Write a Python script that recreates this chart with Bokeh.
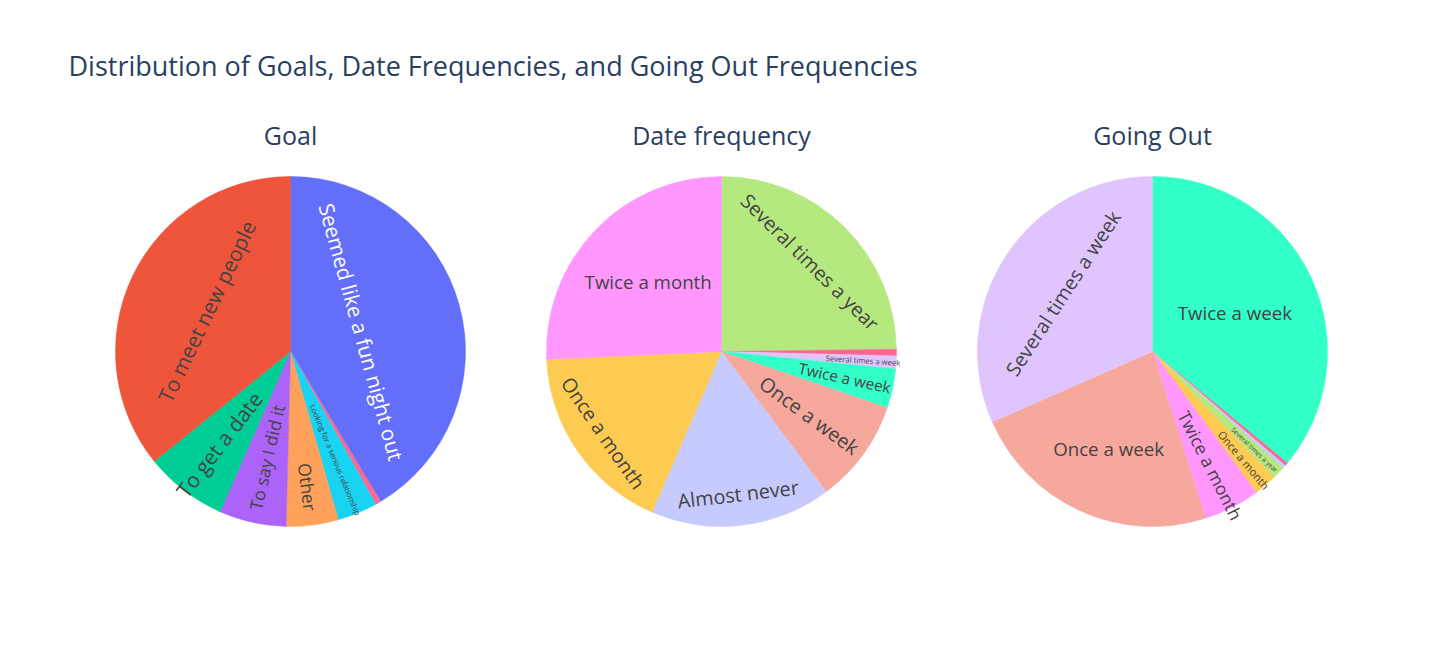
import math
from bokeh.plotting import figure
from bokeh.models import Range1d
from bokeh.core.properties import value
from bokeh.embed import file_html
from bokeh.resources import INLINE

# ---- data (percent shares, clockwise from 12 o'clock) ----
goal_labels = ["Seemed like a fun night out", "nan", "Looking for a serious relationship",
               "Other", "To say I did it", "To get a date", "To meet new people"]
goal_values = [41.4, 0.5, 3.7, 4.8, 6.2, 7.6, 35.8]

date_labels = ["Several times a year", "nan", "Several times a week", "Twice a week",
               "Once a week", "Almost never", "Once a month", "Twice a month"]
date_values = [24.8, 0.6, 1.2, 3.6, 9.6, 16.7, 17.8, 25.7]

out_labels = ["Twice a week", "nan", "Almost never", "Several times a year", "Once a month",
              "Twice a month", "Once a week", "Several times a week"]
out_values = [36.0, 0.3, 0.3, 1.2, 2.1, 5.2, 23.3, 31.6]

subtitles = ["Goal", "Date frequency", "Going Out"]
title = "Distribution of Goals, Date Frequencies, and Going Out Frequencies"

colors = {
    "Seemed like a fun night out": "#636EFA", "To meet new people": "#EF553B",
    "To get a date": "#00CC96", "To say I did it": "#AB63FA", "Other": "#FFA15A",
    "Looking for a serious relationship": "#19D3F3", "nan": "#FF6692",
    "Several times a year": "#B6E880", "Twice a month": "#FF97FF", "Once a month": "#FECB52",
    "Almost never": "#C6CAFD", "Once a week": "#F6A89C", "Twice a week": "#33FFC8",
    "Several times a week": "#DFC4FD",
}
# label styles: (mode, radius fraction, font px, color)
styles = [
    {"Seemed like a fun night out": ("t", 0.42, 19, "white"), "To meet new people": ("t", 0.53, 19, "#444"),
     "To get a date": ("r", 0.67, 19, "#444"), "To say I did it": ("r", 0.62, 16, "#444"),
     "Other": ("r", 0.78, 16, "#444"), "Looking for a serious relationship": ("r", 0.67, 7, "#444")},
    {"Several times a year": ("t", 0.72, 18, "#444"), "Several times a week": ("r", 0.81, 7, "#444"),
     "Twice a week": ("r", 0.72, 14, "#444"), "Once a week": ("r", 0.62, 18, "#444"),
     "Almost never": ("t", 0.82, 18, "#444"), "Once a month": ("t", 0.82, 18, "#444"),
     "Twice a month": ("h", 0.58, 17, "#444")},
    {"Twice a week": ("h", 0.52, 17, "#444"), "Several times a year": ("r", 0.81, 6, "#444"),
     "Once a month": ("r", 0.81, 10, "#444"), "Twice a month": ("r", 0.73, 16, "#444"),
     "Once a week": ("h", 0.61, 17, "#444"), "Several times a week": ("t", 0.61, 18, "#444")},
]
FS = 1.1

W, H = 1425, 653
p = figure(width=W, height=H, output_backend="svg", toolbar_location=None,
           x_range=Range1d(0, W), y_range=Range1d(0, H), min_border=0)
p.axis.visible = False
p.grid.visible = False
p.outline_line_color = None

centers = [(290, H - 351), (721, H - 351), (1152, H - 351)]
R = 175
FONT = value("Open Sans")

def norm(a):
    while a > math.pi / 2 + 1e-9:
        a -= math.pi
    while a <= -math.pi / 2:
        a += math.pi
    return a

for (cx, cy), labels, vals, st, sub in zip(centers, [goal_labels, date_labels, out_labels],
                                             [goal_values, date_values, out_values], styles, subtitles):
    tot = sum(vals)
    cum = 0.0
    for lab, v in zip(labels, vals):
        t0 = cum / tot * 2 * math.pi
        cum += v
        t1 = cum / tot * 2 * math.pi
        p.wedge(x=[cx], y=[cy], radius=R, start_angle=[math.pi / 2 - t0], end_angle=[math.pi / 2 - t1],
                direction="clock", fill_color=colors[lab], line_color=colors[lab], line_width=0.5)
        if lab in st:
            mode, rf, fs, col = st[lab]
            tm = (t0 + t1) / 2
            rad = math.pi / 2 - tm
            if mode == "r":
                ang = norm(rad)
            elif mode == "t":
                ang = norm(rad + math.pi / 2)
            else:
                ang = 0
            p.text(x=[cx + R * rf * math.cos(rad)], y=[cy + R * rf * math.sin(rad)], text=[lab],
                   angle=ang, text_align="center", text_baseline="middle",
                   text_font=FONT, text_font_size=f"{fs * FS:.1f}px", text_color=col)
    p.text(x=[cx], y=[H - 134], text=[sub], text_align="center", text_baseline="middle",
           text_font=FONT, text_font_size="25px", text_color="#2a3f5f")

p.text(x=[68], y=[H - 65], text=[title], text_align="left", text_baseline="middle",
       text_font=FONT, text_font_size="27px", text_color="#2a3f5f")

open("out.html", "w").write(file_html(p, INLINE))
